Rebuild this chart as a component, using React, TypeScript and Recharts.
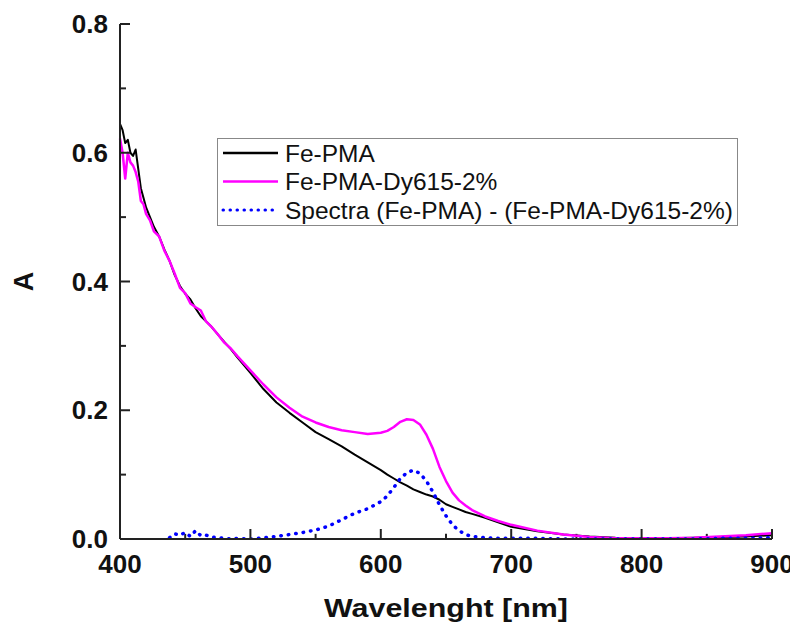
import { LineChart, Line, XAxis, YAxis, Legend, ReferenceLine } from "recharts";

// wavelength grid (nm), denser where the traces are noisy
const wavelengths = [
  400, 402, 404, 406, 408, 410, 412, 414, 416, 418, 420,
  423, 426, 430, 434,
  438, 442, 446, 450, 454, 458, 462, 466, 470,
  475, 480, 485, 490,
  500, 510, 520, 530, 540, 550, 560, 570, 580, 590, 600,
  605, 610, 615, 620, 625, 630, 635, 640, 645, 650, 655, 660, 665, 670,
  680, 690, 700,
  720, 740, 760, 780, 800, 820, 840, 860, 880, 900,
];

const fePma = [
  0.645, 0.635, 0.615, 0.62, 0.6, 0.595, 0.605, 0.575, 0.545, 0.53, 0.515,
  0.5, 0.485, 0.47, 0.45,
  0.432, 0.41, 0.393, 0.381, 0.372, 0.358, 0.346, 0.338, 0.33,
  0.318, 0.306, 0.295, 0.282,
  0.258, 0.233, 0.212, 0.196, 0.181, 0.166, 0.155, 0.144, 0.131, 0.119, 0.107,
  0.1, 0.094, 0.088, 0.083, 0.077, 0.073, 0.069, 0.066, 0.061, 0.054, 0.05, 0.046, 0.042, 0.039,
  0.033, 0.026, 0.019,
  0.012, 0.007, 0.004, 0.002, 0.001, 0.001, 0.002, 0.003, 0.004, 0.006,
];

const fePmaDy = [
  0.622, 0.6, 0.56, 0.6, 0.585, 0.58, 0.57, 0.555, 0.525, 0.52, 0.505,
  0.495, 0.478, 0.47, 0.448,
  0.432, 0.412, 0.39, 0.382, 0.366, 0.36, 0.355, 0.338, 0.33,
  0.318, 0.305, 0.296, 0.284,
  0.262, 0.24, 0.22, 0.204, 0.19, 0.181, 0.174, 0.169, 0.166, 0.163, 0.165,
  0.168, 0.174, 0.182, 0.186, 0.185, 0.178, 0.162, 0.14, 0.112, 0.09, 0.072, 0.06, 0.052, 0.045,
  0.035, 0.028, 0.022,
  0.013, 0.007, 0.003, 0.001, 0.001, 0.001, 0.002, 0.004, 0.006, 0.009,
];

const diffSpectra = [
  null, null, null, null, null, null, null, null, null, null, null,
  null, null, null, null,
  0.002, 0.008, 0.006, 0.01, 0.004, 0.013, 0.005, 0.006, 0.003,
  0.002, 0.001, 0, 0.001,
  0, 0.002, 0.004, 0.007, 0.01, 0.014, 0.02, 0.03, 0.04, 0.047, 0.058,
  0.067, 0.08, 0.094, 0.103, 0.107, 0.102, 0.09, 0.073, 0.053, 0.036, 0.022, 0.013, 0.007, 0.004,
  0.002, 0.001, 0.001,
  0.001, 0, 0, 0, 0, 0, 0, 0.001, 0.001, 0.002,
];

const seriesNames = [
  "Fe-PMA",
  "Fe-PMA-Dy615-2%",
  "Spectra (Fe-PMA) - (Fe-PMA-Dy615-2%)",
];
const seriesColors = ["#000000", "#ff00ff", "#0000ff"];

const xTicks = [400, 500, 600, 700, 800, 900];
const xMinorTicks = [450, 550, 650, 750, 850];
const yTicks = [0, 0.2, 0.4, 0.6, 0.8];
const yMinorTicks = [0.1, 0.3, 0.5, 0.7];

const data = wavelengths.map((w, i) => ({
  w,
  fe: fePma[i],
  dy: fePmaDy[i],
  diff: diffSpectra[i],
}));

const FONT = "'Liberation Sans', Arial, sans-serif";
const AXIS = "#222";

// with tickSize -10 the tick anchor sits 10px inside the axis line
function XTick(props: any) {
  const { x, y, payload } = props;
  return (
    <text x={x} y={y + 44} textAnchor="middle" fontFamily={FONT} fontWeight="bold" fontSize={26} fill="#111">
      {payload.value}
    </text>
  );
}

function YTick(props: any) {
  const { x, y, payload } = props;
  return (
    <text x={x - 22} y={y + 9} textAnchor="end" fontFamily={FONT} fontWeight="bold" fontSize={26} fill="#111">
      {payload.value.toFixed(1)}
    </text>
  );
}

function LegendBox() {
  const rows = [15, 43.5, 72];
  return (
    <svg width={521} height={88} style={{ display: "block" }}>
      <rect x={0.5} y={0.5} width={520} height={87} fill="#fff" stroke="#888" />
      {seriesNames.map((name, i) => (
        <g key={name}>
          <line
            x1={6}
            x2={61}
            y1={rows[i]}
            y2={rows[i]}
            stroke={seriesColors[i]}
            strokeWidth={i === 2 ? 3 : 2.5}
            strokeDasharray={i === 2 ? "0.5 6.5" : undefined}
            strokeLinecap={i === 2 ? "round" : "butt"}
          />
          <text x={68} y={rows[i] + 8.5} fontFamily={FONT} fontSize={24.5} fill="#111">
            {name}
          </text>
        </g>
      ))}
    </svg>
  );
}

export default function App() {
  return (
    <LineChart width={790} height={620} data={data} margin={{ top: 16, right: 26, bottom: 39, left: 10 }}>
      <XAxis
        dataKey="w"
        type="number"
        domain={[400, 900]}
        ticks={xTicks}
        interval={0}
        height={50}
        tickSize={-10}
        tickMargin={0}
        tickLine={{ stroke: AXIS, strokeWidth: 2 }}
        axisLine={{ stroke: AXIS, strokeWidth: 2 }}
        tick={<XTick />}
        label={{
          content: (p: any) => {
            const vb = p.viewBox;
            return (
              <text
                x={vb.x + vb.width / 2}
                y={vb.y + 78}
                textAnchor="middle"
                fontFamily={FONT}
                fontWeight="bold"
                fontSize={25}
                textLength={244}
                lengthAdjust="spacingAndGlyphs"
                fill="#111"
              >
                Wavelenght [nm]
              </text>
            );
          },
        }}
      />
      <YAxis
        type="number"
        domain={[0, 0.8]}
        ticks={yTicks}
        interval={0}
        width={102}
        tickSize={-10}
        tickMargin={0}
        tickLine={{ stroke: AXIS, strokeWidth: 2 }}
        axisLine={{ stroke: AXIS, strokeWidth: 2 }}
        tick={<YTick />}
        allowDataOverflow
        label={{
          content: (p: any) => {
            const vb = p.viewBox;
            const cx = 25;
            const cy = vb.y + vb.height / 2;
            return (
              <text
                x={cx}
                y={cy}
                transform={`rotate(-90, ${cx}, ${cy})`}
                textAnchor="middle"
                fontFamily={FONT}
                fontWeight="bold"
                fontSize={27}
                fill="#111"
              >
                A
              </text>
            );
          },
        }}
      />
      {/* short inward minor ticks */}
      {xMinorTicks.map((v) => (
        <ReferenceLine
          key={`xt${v}`}
          segment={[{ x: v, y: 0 }, { x: v, y: 0.008 }]}
          stroke={AXIS}
          strokeWidth={2}
          ifOverflow="visible"
        />
      ))}
      {yMinorTicks.map((v) => (
        <ReferenceLine
          key={`yt${v}`}
          segment={[{ x: 400, y: v }, { x: 404.6, y: v }]}
          stroke={AXIS}
          strokeWidth={2}
          ifOverflow="visible"
        />
      ))}
      <Legend
        layout="vertical"
        align="center"
        verticalAlign="middle"
        content={() => <LegendBox />}
        wrapperStyle={{ left: 209, top: 130, width: 521, height: 88 }}
      />
      <Line
        dataKey="fe"
        name={seriesNames[0]}
        stroke={seriesColors[0]}
        strokeWidth={2}
        dot={false}
        strokeLinejoin="round"
        isAnimationActive={false}
      />
      <Line
        dataKey="dy"
        name={seriesNames[1]}
        stroke={seriesColors[1]}
        strokeWidth={2.5}
        dot={false}
        strokeLinejoin="round"
        isAnimationActive={false}
      />
      <Line
        dataKey="diff"
        name={seriesNames[2]}
        stroke={seriesColors[2]}
        strokeWidth={3.5}
        strokeDasharray="0.5 7"
        strokeLinecap="round"
        dot={false}
        isAnimationActive={false}
      />
    </LineChart>
  );
}
